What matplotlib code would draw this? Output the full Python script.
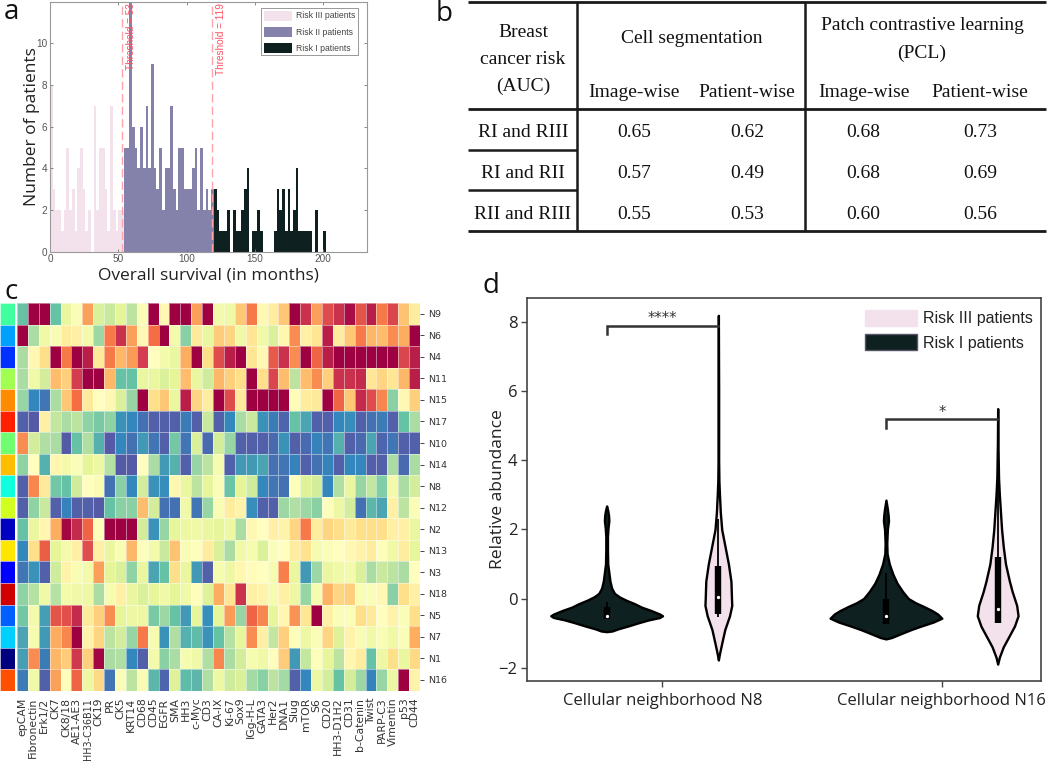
import numpy as np
import matplotlib
matplotlib.use("Agg")
import matplotlib.pyplot as plt
from matplotlib.patches import Patch

W, H = 1050, 761
BIN_MONTHS = 2
# ---------- panel a ----------
risk3_counts = [8,3,2,2,1,2,5,2,3,1,4,5,3,1,2,0,7,2,5,5,3,1,7,2,1,2,2]
risk2_counts = [5,5,12,6,5,4,6,4,7,4,9,4,3,5,2,4,4,7,3,2,5,5,3,3,3,4,5,2,5,2,3,2,3]
risk1_counts = [3,2,1,1,1,2,0,2,1,1,2,3,4,0,1,1,2,1,0,0,0,0,1,3,2,3,1,3,1,2,4,1,1,1,1,1,0,2,0,0,1]
thresholds = [53, 119]
threshold_labels = ["Threshold = 53", "Threshold = 119"]
survival_ticks = [0, 50, 100, 150, 200]
patient_ticks = [0, 2, 4, 6, 8, 10]

# ---------- panel b ----------
row_names = ["RI and RIII", "RI and RII", "RII and RIII"]
auc_cell_image = ["0.65", "0.57", "0.55"]
auc_cell_patient = ["0.62", "0.49", "0.53"]
auc_pcl_image = ["0.68", "0.68", "0.60"]
auc_pcl_patient = ["0.73", "0.69", "0.56"]

# ---------- panel c ----------
markers = ["epCAM","Fibronectin","Erk1/2","CK7","CK8/18","AE1-AE3","HH3-C36B11","CK19","PR","CK5","KRT14",
           "CD68","CD45","EGFR","SMA","HH3","c-Myc","CD3","CA-IX","Ki-67","Sox9","IGg-H-L","GATA3","Her2",
           "DNA1","Slug","mTOR","S6","CD20","HH3-D1H2","CD31","b-Catenin","Twist","PARP-C3","Vimentin","p53","CD44"]
neighborhoods = ["N9","N6","N4","N11","N15","N17","N10","N14","N8","N12","N2","N13","N3","N18","N5","N7","N1","N16"]
strip_colors = ["#40ff9f","#00a0ff","#0030ff","#a0ff50","#ff8c00","#ff2000","#70ff70","#ffbf00","#10ffdf",
                "#d0ff20","#0000c0","#ffe600","#0000ff","#d00000","#0060ff","#00d0ff","#00007f","#ff5000"]
N9  = [.2,1,1,.2,.42,.48,.72,.38,.35,.4,.33,.48,1,.52,1,1,.72,1,.45,.44,.65,.78,.52,.56,.65,1,.92,.72,.87,.92,.98,.85,.95,.78,.88,.66,.56]
N6  = [1,.3,.44,.47,.56,.55,.45,.28,.78,.92,.72,.52,.8,1,.45,.25,.57,.42,.64,.62,.44,.58,.44,.38,.53,.75,.55,.58,.95,.56,.65,.78,.68,.67,.75,.7,1]
N4  = [.3,.52,.6,1,.78,1,.95,.57,.78,.68,.73,.9,.5,.45,.42,.7,1,.6,.87,.95,1,.58,.52,.84,.92,.75,1,.82,.95,1,1,1,1,1,1,.88,.95]
N11 = [.3,.44,.37,.67,.63,.9,1,1,.68,.2,.2,.42,.42,.38,.4,.67,.42,.36,.68,.63,.6,1,.6,.88,.67,.33,.67,.75,.63,.92,.92,.93,.58,.62,.58,.68,.95]
N15 = [.27,.1,.07,.3,.65,.8,.57,.5,.52,.38,.27,1,.6,.65,.42,.95,.62,.56,1,.87,.57,1,1,1,1,.51,.56,.57,1,.82,.65,.93,.87,.76,.25,.52,.63]
N17 = [.03,.02,.55,.34,.3,.33,.26,.23,.26,.12,.1,.06,.03,.03,.03,.08,.03,.35,.03,.1,.3,.35,.12,.08,.04,.2,.15,.03,.03,.1,.11,.03,.06,.08,.03,.2,.3]
N10 = [.75,.37,.31,.3,.02,.2,.31,.17,.02,.1,.06,.13,.07,.03,.22,.07,.38,.05,.37,.27,.03,.03,.03,.05,.12,.03,.05,.09,.07,.17,.03,.05,.15,.04,.07,.03,.03]
N14 = [.26,.5,.17,.53,.45,.48,.4,.43,.32,.02,.02,.5,.3,.13,.17,.03,.27,.33,.46,.03,.13,.13,.15,.06,.07,.09,.03,.06,.09,.03,.1,.1,.03,.03,.3,.05,.3]
N8  = [.03,.76,.57,.22,.2,.36,.5,.47,.06,.25,.1,.37,.12,.11,.53,.42,.33,.41,.48,.21,.4,.36,.1,.07,.06,.49,.39,.37,.1,.31,.42,.27,.34,.24,.45,.3,.37]
N12 = [.03,.26,.35,.03,.09,.03,.03,.02,.2,.25,.25,.67,.37,.06,.06,.44,.07,.27,.47,.56,.54,.11,.03,.03,.28,.31,.28,.25,.49,.43,.37,.06,.18,.15,.55,.33,.48]
N2  = [.2,.42,.53,.7,.99,.93,.82,.49,1,1,1,.37,.12,.27,.41,.43,.44,.42,.41,.43,.3,.52,.5,.55,.54,.62,.78,.56,.62,.6,.57,.6,.6,.6,.55,.55,.42]
N13 = [.1,.6,.83,.4,.45,.55,.87,.55,.42,.47,.68,.49,.45,.35,.66,.47,.49,.56,.38,.3,.44,.46,.38,.48,.5,.56,.59,.46,.48,.5,.52,.54,.56,.49,.44,.56,.41]
N3  = [.07,.12,.03,.36,.54,.47,.45,.72,.4,.38,.26,.42,.15,.2,.6,.42,.13,.03,.46,.43,.53,.51,.5,.46,.77,.42,.13,.28,.42,.44,.45,.38,.3,.35,.33,.3,.5]
N18 = [.26,.32,.44,.32,.45,.44,.43,.3,.46,.55,.42,.38,.41,.44,.4,.44,.49,.39,.7,.58,.92,.55,.54,.46,.55,.43,.27,.46,.69,.62,.63,.47,.48,.52,.25,.6,.55]
N5  = [.22,.45,.14,.85,.86,.93,.57,.63,.75,.41,.43,.43,.23,.28,.2,.13,.41,.11,.41,.73,.27,.82,.76,.41,.53,.74,.58,1,.55,.48,.48,.6,.57,.5,.54,.48,.6]
N7  = [.15,.46,.13,.7,.76,1,.54,.62,.33,.37,.27,.78,.46,.12,.31,.17,.19,.12,.2,.32,.41,.75,.55,.34,.63,.49,.43,.48,.62,.39,.54,.47,.44,.47,.44,.48,.7]
N1  = [.14,.75,.08,.68,.64,.91,.63,.99,.3,.31,.1,.03,.45,.25,.3,.46,.44,.31,.76,.3,.37,.46,.44,.49,.64,.13,.34,.49,.41,.33,.53,.56,.2,.43,.6,.42,.61]
N16 = [.08,.44,.03,.72,.49,.82,.43,.61,.07,.48,.33,.47,.18,.04,.39,.19,.18,.31,.43,.36,.38,.29,.25,.33,.29,.03,.1,.43,.37,.2,.37,.28,.09,.27,.43,1,.54]
heat_rows = [N9,N6,N4,N11,N15,N17,N10,N14,N8,N12,N2,N13,N3,N18,N5,N7,N1,N16]

# ---------- panel d ----------
cn_labels = ["Cellular neighborhood N8", "Cellular neighborhood N16"]
v1_y = [2.68,2.55,2.4,2.25,2.05,1.8,1.4,1.0,.75,.5,.3,.15,.05,-.05,-.15,-.25,-.35,-.45,-.5,-.55,-.62,-.7,-.8,-.88,-.94,-.96]
v1_w = [0,.004,.007,.008,.005,.003,.003,.004,.008,.012,.018,.028,.045,.07,.1,.125,.16,.19,.2,.19,.15,.115,.075,.04,.02,0]
v2_y = [8.2,6,4,3.4,3,2.5,2,1.5,1,.5,0,-.2,-.5,-.9,-1.3,-1.6,-1.78]
v2_w = [0,.001,.001,.002,.004,.007,.012,.024,.036,.045,.047,.048,.04,.023,.012,.004,0]
v3_y = [2.85,2.6,2.4,2.25,2.0,1.6,1.3,1.0,.7,.44,.2,0,-.12,-.23,-.35,-.45,-.57,-.68,-.8,-.9,-1.03,-1.13,-1.17]
v3_w = [0,.005,.008,.009,.005,.003,.004,.012,.025,.04,.06,.08,.105,.135,.165,.185,.2,.17,.125,.09,.05,.02,0]
v4_y = [5.5,4.5,3.5,3,2.5,2,1.5,1,.5,.2,0,-.2,-.5,-.8,-1.1,-1.4,-1.7,-1.9]
v4_w = [0,.001,.003,.006,.01,.014,.02,.028,.042,.052,.06,.068,.073,.06,.04,.02,.006,0]
violin_profiles = [(v1_y, v1_w), (v2_y, v2_w), (v3_y, v3_w), (v4_y, v4_w)]
whisker_lo = [-.6, -.55, -.75, -.7]
whisker_hi = [-.1, 2.3, .75, 3.65]
box_lo = [-.6, -.45, -.75, -.7]
box_hi = [-.25, .93, 0, 1.2]
medians = [-.5, .05, -.52, -.3]
bracket_tops = [7.9, 5.2]
bracket_drops = [7.65, 4.95]
bracket_stars = ["****", "*"]

PINK, PURPLE, DARK = "#f3e1ec", "#8481ab", "#0e201f"
LABEL_FONT = ["Open Sans", "DejaVu Sans"]

fig = plt.figure(figsize=(W/100, H/100), dpi=100, facecolor="white")

def px_axes(x0, y0, x1, y1, **kw):
    return fig.add_axes([x0/W, 1-y1/H, (x1-x0)/W, (y1-y0)/H], **kw)

# ---- a ----
ax = px_axes(50, 1.7, 366.7, 251.7)
starts = [0, len(risk3_counts)*BIN_MONTHS, (len(risk3_counts)+len(risk2_counts))*BIN_MONTHS]
hist_series = [(risk3_counts, PINK, "Risk III patients"), (risk2_counts, PURPLE, "Risk II patients"), (risk1_counts, DARK, "Risk I patients")]
for s, (vals, c, lab) in zip(starts, hist_series):
    ax.stairs(vals, s + np.arange(len(vals)+1)*BIN_MONTHS, fill=True, color=c, lw=0, label=lab)
for t in thresholds:
    ax.axvline(t, color="#ffa4ab", lw=1.0, dashes=(6, 3))
for t, lab, yp in zip(thresholds, threshold_labels, [8.72, 8.48]):
    ax.text(t + 6, yp, lab, rotation=90, color="#ff5060", fontsize=7.2,
            family="Liberation Sans", va="bottom", ha="center", clip_on=True)
ax.set_xlim(0, 232); ax.set_ylim(0, 12)
ax.set_xticks(survival_ticks); ax.set_yticks(patient_ticks)
ax.tick_params(direction="in", length=2.5, width=.6, color="#777", labelcolor="#555", labelsize=7.2, top=True, right=True, pad=2)
for lbl in ax.get_xticklabels()+ax.get_yticklabels():
    lbl.set_family("Liberation Sans")
for sp in ax.spines.values():
    sp.set_color("#999"); sp.set_linewidth(.8)
leg = ax.legend(loc="upper left", bbox_to_anchor=((261-50)/316.7, 1-(8-1.7)/250), prop={"family":"Liberation Sans","size":6.2},
                fancybox=False, edgecolor="#888", framealpha=1, borderpad=.3, labelspacing=.72,
                handlelength=3.3, handleheight=1.4, handletextpad=.45, borderaxespad=0)
leg.get_frame().set_linewidth(.6)
for t in leg.get_texts():
    t.set_color("#444")
ax.set_xlabel("Overall survival (in months)", family=LABEL_FONT, fontsize=12.5, color="#222", labelpad=2.5)
ax.set_ylabel("Number of patients", family=LABEL_FONT, fontsize=12.5, color="#222", labelpad=-3)

# ---- c ----
hm = px_axes(17, 303, 420, 690.7)
M = np.array(heat_rows)
hm.pcolormesh(np.arange(M.shape[1]+1), np.arange(M.shape[0]+1), M, cmap="Spectral_r", vmin=0, vmax=1,
              edgecolors=(1, 1, 1, .45), linewidth=.5)
hm.set_xlim(0, M.shape[1]); hm.set_ylim(M.shape[0], 0)
hm.set_xticks(np.arange(M.shape[1])+.5, markers, rotation=90, fontsize=7.8)
hm.set_yticks(np.arange(M.shape[0])+.5, neighborhoods, fontsize=6.8)
hm.yaxis.tick_right()
hm.tick_params(axis="x", length=0, pad=5, labelcolor="#333")
hm.tick_params(axis="y", length=3, width=.7, color="#444", pad=2.5, labelcolor="#333")
for lbl in hm.get_xticklabels():
    if lbl.get_text() == "HH3-C36B11":
        lbl.set_fontsize(6.9)
for sp in hm.spines.values():
    sp.set_visible(False)
st = px_axes(0, 303, 15.3, 690.7)
st.barh(np.arange(len(strip_colors))+.5, 1, height=1, color=strip_colors, edgecolor=(1, 1, 1, .45), linewidth=.5)
st.set_xlim(0, 1); st.set_ylim(len(strip_colors), 0); st.axis("off")

# ---- d ----
vx = px_axes(527.3, 297.7, 1040.7, 680.7)
positions = [-.2, .2, .8, 1.2]
colors = [DARK, PINK, DARK, PINK]
for p, (y, w), c in zip(positions, violin_profiles, colors):
    y = np.array(y); w = np.array(w)
    vx.fill_betweenx(y, p-w, p+w, facecolor=c, edgecolor="black", lw=1.7, zorder=2)
for p, wl, wh, bl, bh, m in zip(positions, whisker_lo, whisker_hi, box_lo, box_hi, medians):
    vx.plot([p, p], [wl, wh], color="black", lw=1.3, zorder=3, solid_capstyle="butt")
    vx.plot([p, p], [bl, bh], color="black", lw=4.6, zorder=3, solid_capstyle="butt")
    vx.plot([p], [m], "o", ms=2.4, color="white", zorder=4, mew=0)
for i, (top, drop, star) in enumerate(zip(bracket_tops, bracket_drops, bracket_stars)):
    vx.plot([i-.2, i-.2, i+.2], [drop, top, top], color="#333", lw=1.8, zorder=5, solid_joinstyle="miter")
    vx.text(i, top-.02, star, ha="center", va="bottom", fontsize=10.5, color="#333", family="DejaVu Sans")
vx.set_xlim(-.484, 1.354); vx.set_ylim(-2.38, 8.71)
vx.set_xticks([0, 1], cn_labels, family=LABEL_FONT, fontsize=12.7, color="#222")
vx.set_yticks([-2, 0, 2, 4, 6, 8])
vx.tick_params(length=4, width=1, color="#444", labelsize=12, labelcolor="#222", pad=3)
vx.tick_params(axis="x", pad=4.5)
for lbl in vx.get_yticklabels():
    lbl.set_family(LABEL_FONT)
for sp in vx.spines.values():
    sp.set_color("#444"); sp.set_linewidth(1.2)
vx.set_ylabel("Relative abundance", family=LABEL_FONT, fontsize=12.6, color="#222", labelpad=-5)
handles = [Patch(facecolor=PINK, edgecolor=PINK, label="Risk III patients"),
           Patch(facecolor=DARK, edgecolor="#556", label="Risk I patients")]
vl = vx.legend(handles=handles, loc="upper left", bbox_to_anchor=((864.7-527.3)/513.4, 1-(310-297.7)/383),
               frameon=False, prop={"family":"Liberation Sans","size":11.5}, borderpad=0, borderaxespad=0,
               handlelength=3.25, handleheight=1.15, handletextpad=.38, labelspacing=.5)
for t in vl.get_texts():
    t.set_color("#222")

# ---- overlay in pixel space: table and panel letters ----
ov = fig.add_axes([0, 0, 1, 1], zorder=10)
ov.set_xlim(0, W); ov.set_ylim(H, 0); ov.axis("off"); ov.patch.set_alpha(0)
for letter, x, y in [("a", 4, 12), ("b", 436, 14), ("c", 4, 292), ("d", 483, 286)]:
    ov.text(x, y, letter, family=LABEL_FONT, fontsize=20, color="#111", va="center", ha="left")
SER = "Liberation Serif"
TS = 14
def tline(xs, ys, lw=1.8):
    ov.plot(xs, ys, color="#1a1a1a", lw=lw, solid_capstyle="butt")
tline([468, 1046], [2, 2], 2)
tline([468, 1046], [108.7, 108.7], 2)
tline([468, 1046], [230.7, 230.7], 2)
tline([468, 577], [150, 150]); tline([468, 577], [190, 190])
tline([577, 577], [2, 231]); tline([805, 805], [2, 231])
def tt(x, y, s):
    ov.text(x, y + 2, s, family=SER, fontsize=TS, color="#111", ha="center", va="center")
tt(523, 30.7, "Breast"); tt(523, 57.3, "cancer risk"); tt(523, 84, "(AUC)")
tt(691.4, 36.7, "Cell segmentation"); tt(922, 24, "Patch contrastive learning"); tt(922, 51.7, "(PCL)")
col_x = [634, 747, 863.6, 980]
for x, s in zip(col_x, ["Image-wise", "Patient-wise", "Image-wise", "Patient-wise"]):
    tt(x, 90.7, s)
row_y = [130.7, 171.7, 212.3]
for i, y in enumerate(row_y):
    tt(523, y, row_names[i])
    for x, col in zip(col_x, [auc_cell_image, auc_cell_patient, auc_pcl_image, auc_pcl_patient]):
        tt(x, y, col[i])

fig.savefig("out.png", dpi=100)
